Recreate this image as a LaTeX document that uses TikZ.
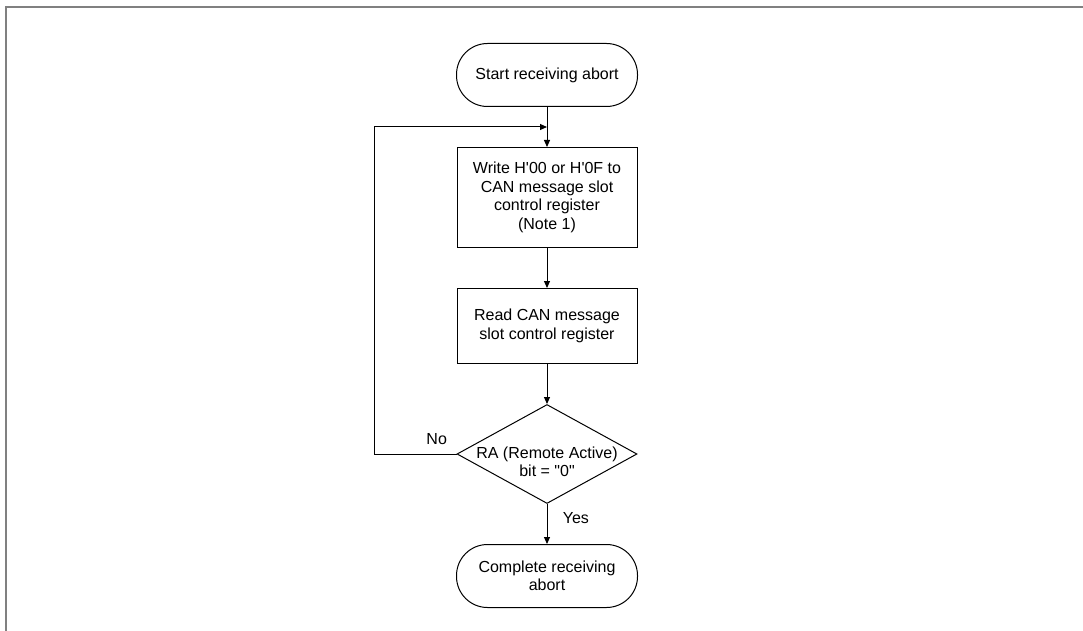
\documentclass[tikz,border=0pt]{standalone}
\usepackage{fontspec}
\newfontfamily\chartfont{Liberation Sans}
\usetikzlibrary{positioning,shapes.geometric,arrows.meta,calc}

\tikzset{
  terminal/.style = {draw, rectangle, rounded corners=31pt, minimum width=181pt,
                     minimum height=63pt, align=center},
  process/.style  = {draw, rectangle, minimum width=180pt, align=center},
  decision/.style = {draw, diamond, minimum width=180pt, minimum height=99pt, inner sep=0pt},
  flow/.style     = {-{Triangle[length=7pt,width=6pt]}},
}

\begin{document}
\begin{tikzpicture}[x=1pt, y=-1pt, line width=1pt, node distance=40pt,
                    font=\chartfont\fontsize{16}{18.5}\selectfont]
  \useasboundingbox (0,0) rectangle (1083,631);
  % frame
  \draw[gray, line width=2pt] (6,631) -- (6,7) -- (1083,7);

  \node[terminal] (start) at (547,75) {Start receiving abort};
  \node[process, below=of start, minimum height=100pt] (write)
    {Write H'00 or H'0F to\\CAN message slot\\control register\\(Note 1)};
  \node[process, below=of write, minimum height=75pt] (read)
    {Read CAN message\\slot control register};
  \node[decision, below=of read,
        label={[align=center, yshift=-8pt]center:{RA (Remote Active)\\bit = "0"}}] (check) {};
  \node[terminal, below=of check] (done) {Complete receiving\\abort};

  \coordinate (join) at ($(start.south)!0.5!(write.north)$);
  \coordinate (loop) at (374,128);

  \draw[flow] (start) -- (write);
  \draw[flow] (write) -- (read);
  \draw[flow] (read) -- (check);
  \draw[flow] (check) -- node[pos=0.49, anchor=base west, xshift=12pt] {Yes} (done);
  \draw[flow] (check.west) -- node[pos=0.24, anchor=base, yshift=9.5pt] {No}
    (check.west -| loop) |- (join);
\end{tikzpicture}
\end{document}
